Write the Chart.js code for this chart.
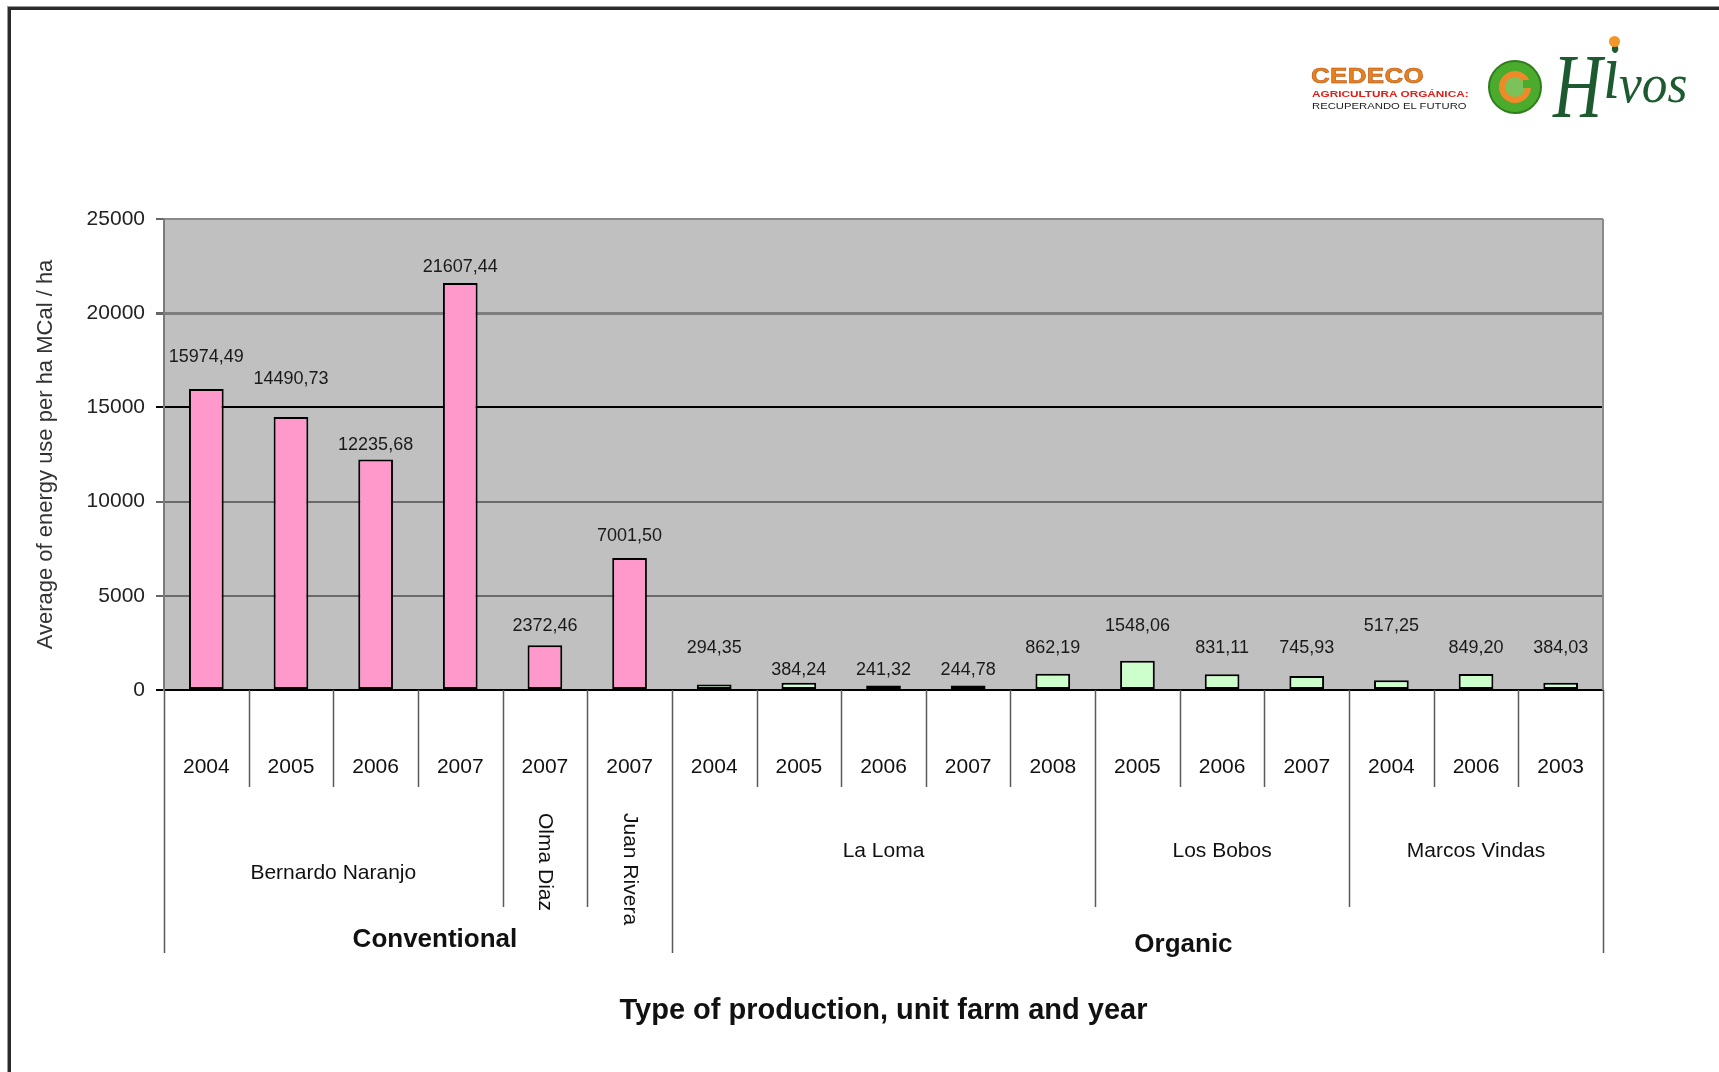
<!DOCTYPE html>
<html>
<head>
<meta charset="utf-8">
<script src="https://cdn.jsdelivr.net/npm/chart.js@4/dist/chart.umd.min.js"></script>
<style>
html,body{margin:0;padding:0;background:#fff;}
#wrap{position:relative;width:1719px;height:1072px;overflow:hidden;background:#fff;}
#c{position:absolute;left:0;top:0;}
#frame{position:absolute;left:8px;top:7px;width:1800px;height:1200px;border-top:3px solid #2b2b2b;border-left:3px solid #2b2b2b;box-shadow:-1px -1px 0 #999;pointer-events:none;}
.logo{position:absolute;white-space:nowrap;line-height:1;}
#cedeco{left:1311px;top:64px;font-family:'Liberation Sans',Arial,sans-serif;font-weight:bold;font-size:26px;color:#e8801c;-webkit-text-stroke:0.6px #b04a10;letter-spacing:0.3px;transform:scaleY(0.85);transform-origin:left top;}
#agri{left:1312px;top:90px;font-family:'Liberation Sans',Arial,sans-serif;font-weight:bold;font-size:11.8px;color:#e0201a;transform:scaleY(0.8);transform-origin:left top;}
#recu{left:1312px;top:101px;font-family:'Liberation Sans',Arial,sans-serif;font-size:11.3px;color:#222;transform:scaleY(0.85);transform-origin:left top;}
#icon{left:1488px;top:60px;width:50px;height:50px;border-radius:50%;background:#4aab2c;border:2px solid #2f7d1e;}
#icon .ring{position:absolute;left:9px;top:9px;width:20px;height:20px;border-radius:50%;border:6px solid #ee8a2a;background:#7cc25a;}
#icon .gap{position:absolute;left:33px;top:18px;width:10px;height:8px;background:#4aab2c;}
.hv{position:absolute;line-height:1;white-space:nowrap;font-family:'Liberation Serif','DejaVu Serif',serif;font-style:italic;color:#1d5a2f;}
#hH{left:1553px;top:40px;font-size:92px;transform:scaleX(0.74);transform-origin:left top;}
#hI{left:1603px;top:30px;font-size:62px;transform:scaleY(1.3);transform-origin:left top;}
#hV{left:1619px;top:57px;font-size:54px;transform:scaleX(0.95);transform-origin:left top;}
#dot{position:absolute;left:1609px;top:36px;width:11px;height:11px;border-radius:50%;background:#f0962a;}
</style>
</head>
<body>
<div id="wrap">
  <canvas id="c" width="1719" height="1072"></canvas>
  <div id="frame"></div>
  <div class="logo" id="cedeco">CEDECO</div>
  <div class="logo" id="agri">AGRICULTURA ORGÁNICA:</div>
  <div class="logo" id="recu">RECUPERANDO EL FUTURO</div>
  <div class="logo" id="icon"><div class="ring"></div><div class="gap"></div></div>
  <div class="hv" id="hH">H</div><div class="hv" id="hI">i</div><div class="hv" id="hV">vos</div>
  <div class="logo" id="dot"></div>
</div>
<script>
// ---------------- DATA ----------------
const years = ['2004','2005','2006','2007','2007','2007','2004','2005','2006','2007','2008','2005','2006','2007','2004','2006','2003'];
const farms = ['Bernardo Naranjo','Bernardo Naranjo','Bernardo Naranjo','Bernardo Naranjo','Olma Diaz','Juan Rivera',
               'La Loma','La Loma','La Loma','La Loma','La Loma','Los Bobos','Los Bobos','Los Bobos',
               'Marcos Vindas','Marcos Vindas','Marcos Vindas'];
const productionTypes = ['Conventional','Conventional','Conventional','Conventional','Conventional','Conventional',
               'Organic','Organic','Organic','Organic','Organic','Organic','Organic','Organic','Organic','Organic','Organic'];
const energyValues = [15974.49, 14490.73, 12235.68, 21607.44, 2372.46, 7001.50,
                      294.35, 384.24, 241.32, 244.78, 862.19, 1548.06, 831.11, 745.93, 517.25, 849.20, 384.03];
const yTickValues = [0, 5000, 10000, 15000, 20000, 25000];
const yAxisTitle = 'Average of energy use per ha MCal / ha';
const xAxisTitle = 'Type of production, unit farm and year';

// ---------------- STYLE ----------------
const typeColors = {Conventional:'#ff99cc', Organic:'#ccffcc'};
// vertical lift (px) of each value label above its bar top, as placed in the original
const labelLift = [32,38,14,16,19,22,36,13,15,15,26,35,26,28,54,26,35];
const typeLabelShift = {Conventional:17, Organic:46};
const gridColors = {0:'#000000',5000:'#6a6a6a',10000:'#6a6a6a',15000:'#000000',20000:'#7e7e7e',25000:'#8a8a8a'};
const gridWidths = {0:2,5000:2,10000:2,15000:2,20000:3,25000:2};
const FONT = "'Liberation Sans', Arial, sans-serif";

function fmt(v){ return v.toFixed(2).replace('.', ','); }
function runs(arr){
  const out=[]; let s=0;
  for(let i=1;i<=arr.length;i++){
    if(i===arr.length || arr[i]!==arr[s]){ out.push({start:s,end:i-1,label:arr[s]}); s=i; }
  }
  return out;
}

const plotBg = {
  id:'plotBg',
  beforeDraw(chart){
    const {ctx, chartArea:ca} = chart;
    ctx.save(); ctx.fillStyle='#c0c0c0';
    ctx.fillRect(ca.left, ca.top, ca.right-ca.left, ca.bottom-ca.top);
    ctx.restore();
  },
  afterDatasetsDraw(chart){
    const {ctx, chartArea:ca} = chart;
    ctx.save();
    ctx.strokeStyle='#8a8a8a'; ctx.lineWidth=2;
    ctx.beginPath(); ctx.moveTo(ca.right, ca.top); ctx.lineTo(ca.right, ca.bottom); ctx.stroke();
    const meta = chart.getDatasetMeta(0);
    ctx.fillStyle='#1a1a1a'; ctx.font = '18px ' + FONT;
    ctx.textAlign='center'; ctx.textBaseline='middle';
    meta.data.forEach((bar,i)=>{
      ctx.fillText(fmt(energyValues[i]), bar.x, bar.y - labelLift[i]);
    });
    ctx.restore();
  }
};

const xLevels = {
  id:'xLevels',
  afterDraw(chart){
    const {ctx, chartArea:ca, scales:{x}} = chart;
    const n = years.length;
    const step = x.getPixelForValue(1) - x.getPixelForValue(0);
    const edge = b => x.getPixelForValue(0) - step/2 + b*step;
    const base = ca.bottom;
    ctx.save();
    ctx.strokeStyle='#5a5a5a'; ctx.lineWidth=1.5;
    for(let b=0;b<=n;b++){
      let end;
      if(b===0 || b===n || productionTypes[b]!==productionTypes[b-1]) end = base+263;
      else if(farms[b]!==farms[b-1]) end = base+217;
      else end = base+97;
      const px = Math.round(edge(b))+0.5;
      ctx.beginPath(); ctx.moveTo(px, base); ctx.lineTo(px, end); ctx.stroke();
    }
    ctx.fillStyle='#111'; ctx.font='21px '+FONT; ctx.textAlign='center'; ctx.textBaseline='middle';
    years.forEach((y,i)=> ctx.fillText(y, x.getPixelForValue(i), base+77));
    ctx.font='21px '+FONT;
    runs(farms).forEach(r=>{
      const cx = (edge(r.start)+edge(r.end+1))/2;
      if(r.start===r.end){
        ctx.save();
        ctx.translate(cx, base+123);
        ctx.rotate(Math.PI/2);
        ctx.textAlign='left'; ctx.textBaseline='middle';
        ctx.fillText(r.label, 0, 0);
        ctx.restore();
      } else {
        const gy = productionTypes[r.start]==='Conventional' ? base+183 : base+161;
        ctx.fillText(r.label, cx, gy);
      }
    });
    ctx.font='bold 26px '+FONT;
    runs(productionTypes).forEach(r=>{
      const cx = (edge(r.start)+edge(r.end+1))/2 + typeLabelShift[r.label];
      const ty = r.label==='Conventional' ? base+250 : base+255;
      ctx.fillText(r.label, cx, ty);
    });
    ctx.restore();
  }
};

new Chart(document.getElementById('c'), {
  type:'bar',
  data:{
    labels: years,
    datasets:[{
      data: energyValues,
      backgroundColor: productionTypes.map(t=>typeColors[t]),
      borderColor:'#000',
      borderWidth:2,
      borderSkipped:false,
      barPercentage:0.41,
      categoryPercentage:1
    }]
  },
  options:{
    responsive:false,
    animation:false,
    devicePixelRatio:1,
    layout:{padding:{left:0, top:219, right:116, bottom:0}},
    plugins:{legend:{display:false}, tooltip:{enabled:false}},
    scales:{
      x:{
        ticks:{display:false},
        grid:{display:false},
        border:{display:true, color:'#000', width:2},
        title:{display:true, text:xAxisTitle, color:'#111', font:{family:FONT, size:29, weight:'bold'}, padding:{top:0,bottom:44}},
        afterFit(s){ s.height = 382; }
      },
      y:{
        min:0, max:25000,
        afterBuildTicks(s){ s.ticks = yTickValues.map(v=>({value:v})); },
        ticks:{color:'#222', font:{family:FONT, size:21}, padding:11, callback:v=>String(v)},
        grid:{
          color:c=>gridColors[c.tick.value] || '#777',
          lineWidth:c=>gridWidths[c.tick.value] || 2,
          tickColor:c=>c.tick.value===15000||c.tick.value===0 ? '#000' : '#666',
          tickLength:8
        },
        border:{display:true, color:'#7a7a7a', width:2},
        title:{display:true, text:yAxisTitle, color:'#333', font:{family:FONT, size:22}, padding:{top:33,bottom:0}},
        afterFit(s){ s.width = 164; }
      }
    }
  },
  plugins:[plotBg, xLevels]
});
</script>
</body>
</html>
